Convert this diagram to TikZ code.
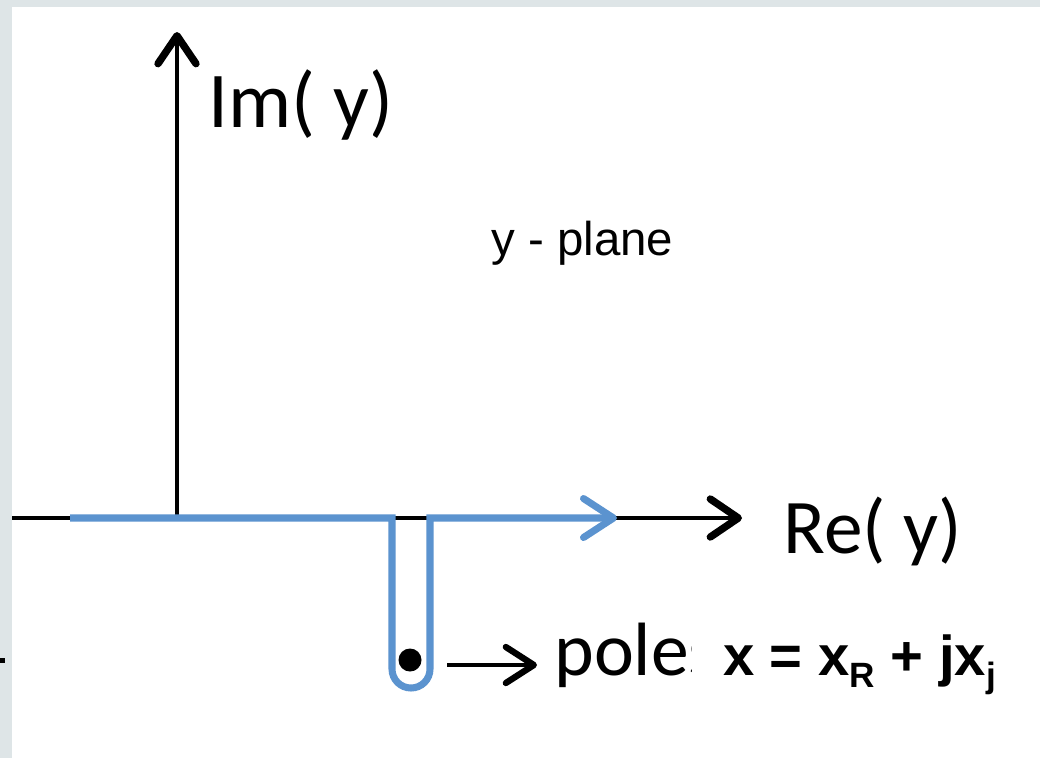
\documentclass[tikz,border=0pt]{standalone}
\usepackage{fontspec}
\setmainfont{Carlito}
\newfontfamily\arialfont{Liberation Sans}
\usetikzlibrary{arrows.meta}
\definecolor{sfondo}{RGB}{222,229,231}
\definecolor{blucammino}{RGB}{91,147,207}

\begin{document}
\begin{tikzpicture}[x=0.02cm,y=-0.02cm,
    asse/.style={line width=2pt,-{Straight Barb[round,length=0.56cm,width=0.76cm,line width=4.2pt]}},
    cammino/.style={blucammino,line width=4pt,-{Straight Barb[round,length=0.6cm,width=0.78cm]}},
    freccia/.style={line width=2.6pt,-{Straight Barb[round,length=0.56cm,width=0.72cm,line width=3.6pt]}},
    etichetta/.style={inner sep=0pt,anchor=base west}]
    % sfondo
    \fill[sfondo] (0,0) rectangle (1040,758);
    \fill[white] (12,7) rectangle (1040,758);
    \useasboundingbox (0,0) rectangle (1040,758);
    \fill (0,658) rectangle (5,663);

    % assi
    \coordinate (origine) at (177,518);
    \coordinate (sinistra) at (12,518);
    \coordinate (fineRe) at (742,518);
    \coordinate (fineIm) at (177,32);
    \draw[line width=2pt] (sinistra) -- (origine);
    \draw[asse] (origine) -- (fineRe);
    \draw[asse] (origine) -- (fineIm);

    %\node[opzioni] (nome) at (punto) {testo};
    \node[etichetta,font=\fontsize{45}{50}\selectfont] (im) at (208,127) {Im( y)};
    \node[etichetta,font=\fontsize{44}{50}\selectfont] (re) at (783,553) {Re( y)};
    \node[etichetta,font=\arialfont\fontsize{27}{30}\selectfont] (piano) at (491,255) {y - plane};

    % cammino attorno al polo
    \coordinate (inizio) at (70,518);
    \coordinate (giuA) at (392,518);
    \coordinate (suB) at (430,518);
    \coordinate (fine) at (617,518);
    \draw[cammino] (inizio) -- (giuA) -- (392,669) arc[start angle=180,end angle=0,radius=19] -- (suB) -- (fine);

    % polo
    \node[circle,fill,inner sep=0pt,minimum size=0.46cm] (polo) at (410,660) {};
    \coordinate (da) at (447,665);
    \coordinate (a) at (537,665);
    \draw[freccia] (da) -- (a);
    \node[etichetta,font=\fontsize{43}{48}\selectfont] (poli) at (554,675) {poles};
    \node[etichetta,fill=white,inner xsep=17.5pt,inner ysep=4pt,font=\arialfont\bfseries\fontsize{32}{36}\selectfont] (formula) at (692,675)
      {x = x\raisebox{-7pt}{\fontsize{20}{24}\selectfont R} + jx\raisebox{-7pt}{\fontsize{20}{24}\selectfont j}};
\end{tikzpicture}
\end{document}
